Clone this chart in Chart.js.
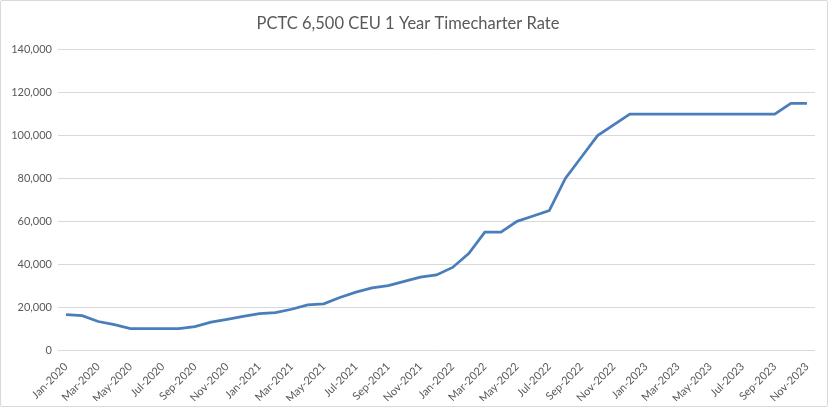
<!DOCTYPE html>
<html>
<head>
<meta charset="utf-8">
<script src="https://cdn.jsdelivr.net/npm/chart.js@4.4.0/dist/chart.umd.min.js"></script>
<style>
  html, body { margin: 0; padding: 0; background: #fff; }
  #box { position: absolute; left: 0; top: 0; width: 826px; height: 405px; border: 1px solid #d9d9d9; border-radius: 2px; }
  #chart { display: block; }
</style>
</head>
<body>
<div id="box"><canvas id="chart" width="826" height="405"></canvas></div>
<script>
//months on the category axis
const months = [
  "Jan-2020", "Feb-2020", "Mar-2020", "Apr-2020", "May-2020", "Jun-2020", "Jul-2020", "Aug-2020", "Sep-2020", "Oct-2020", "Nov-2020", "Dec-2020",
  "Jan-2021", "Feb-2021", "Mar-2021", "Apr-2021", "May-2021", "Jun-2021", "Jul-2021", "Aug-2021", "Sep-2021", "Oct-2021", "Nov-2021", "Dec-2021",
  "Jan-2022", "Feb-2022", "Mar-2022", "Apr-2022", "May-2022", "Jun-2022", "Jul-2022", "Aug-2022", "Sep-2022", "Oct-2022", "Nov-2022", "Dec-2022",
  "Jan-2023", "Feb-2023", "Mar-2023", "Apr-2023", "May-2023", "Jun-2023", "Jul-2023", "Aug-2023", "Sep-2023", "Oct-2023", "Nov-2023",
];
//rate in USD/day
const rates = [
  16500, 16000, 13300, 11800, 10000, 10000, 10000, 10000, 10900, 13000, 14300, 15700,
  17000, 17400, 19000, 21000, 21500, 24500, 27000, 29000, 30000, 32000, 34000, 35000,
  38500, 45000, 55000, 55000, 60000, 62500, 65000, 80000, 90000, 100000, 105000, 110000,
  110000, 110000, 110000, 110000, 110000, 110000, 110000, 110000, 110000, 115000, 115000,
];
const yMax = 140000;
const yStep = 20000;

const grey = "#595959";
const fontName = "Lato, 'Liberation Sans', sans-serif";

new Chart(document.getElementById("chart"), {
  type: "line",
  data: {
    labels: months,
    datasets: [
      {
        data: rates,
        borderColor: "#4a7ebb",
        borderWidth: 2.75,
        pointRadius: 0,
        tension: 0,
        fill: false,
      },
    ],
  },
  options: {
    responsive: false,
    animation: false,
    layout: { padding: { left: 0, right: 12, top: 0, bottom: 5 } },
    plugins: {
      legend: { display: false },
      tooltip: { enabled: false },
      title: {
        display: true,
        text: "PCTC 6,500 CEU 1 Year Timecharter Rate",
        color: grey,
        font: { family: fontName, size: 16.5, weight: "normal" },
        padding: { top: 13, bottom: 16 },
      },
    },
    scales: {
      x: {
        offset: true,
        grid: { display: false },
        border: { display: false },
        ticks: {
          autoSkip: false,
          maxRotation: 45,
          minRotation: 45,
          color: grey,
          font: { family: fontName, size: 11 },
          padding: 2,
          //show every second month like the original
          callback: function (value, index) {
            return index % 2 === 0 ? months[index] : "";
          },
        },
        afterFit: (scale) => { scale.height = 51; },
      },
      y: {
        min: 0,
        max: yMax,
        grid: { color: "#d9d9d9", drawTicks: false, lineWidth: 1 },
        border: { display: false },
        ticks: {
          stepSize: yStep,
          color: grey,
          font: { family: fontName, size: 11 },
          padding: 6,
          callback: (v) => v.toLocaleString("en-US"),
        },
        afterFit: (scale) => { scale.width = 57; },
      },
    },
  },
});
</script>
</body>
</html>
